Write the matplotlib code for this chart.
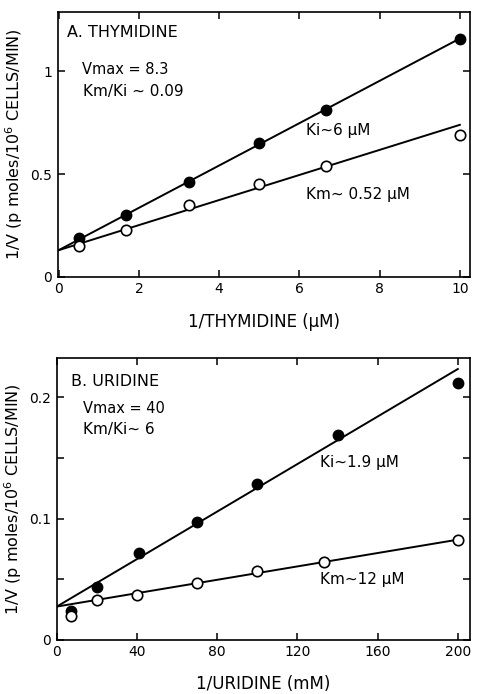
import numpy as np
import matplotlib
matplotlib.use('Agg')
import matplotlib.pyplot as plt

# Panel A: thymidine
thy_x = [0.5, 1.67, 3.25, 5.0, 6.67, 10.0]
thy_filled = [0.19, 0.30, 0.46, 0.65, 0.81, 1.16]
thy_open = [0.15, 0.23, 0.35, 0.45, 0.54, 0.69]
thy_intercept = 0.13
thy_slope_filled = 0.103
thy_slope_open = 0.061

# Panel B: uridine
uri_x_filled = [7, 20, 41, 70, 100, 140, 200]
uri_filled = [0.024, 0.044, 0.072, 0.097, 0.129, 0.169, 0.212]
uri_x_open = [7, 20, 40, 70, 100, 133, 200]
uri_open = [0.020, 0.0325, 0.0374, 0.047, 0.057, 0.064, 0.082]
uri_intercept = 0.0275
uri_slope_filled = 0.00098
uri_slope_open = 0.000276

plt.rcParams['font.family'] = 'DejaVu Sans'
plt.rcParams['font.size'] = 9

fig = plt.figure(figsize=(4.78, 6.94), dpi=100)
ax1 = fig.add_axes([0.121, 0.601, 0.862, 0.382])
ax2 = fig.add_axes([0.119, 0.078, 0.864, 0.406])

ylab = '1/V (p moles/10$^6$ CELLS/MIN)'


def style(ax):
    for s in ax.spines.values():
        s.set_linewidth(1.2)
    ax.tick_params(direction='in', top=True, right=True, length=5, width=1.1,
                   labelsize=10, pad=4)


def draw(ax, xf, yf, xo, yo, b, mf, mo, xmax):
    xl = np.array([0, xmax])
    ax.plot(xl, b + mf * xl, color='black', lw=1.4)
    ax.plot(xl, b + mo * xl, color='black', lw=1.4)
    ax.plot(xf, yf, 'o', ms=7.5, mfc='black', mec='black', zorder=3)
    ax.plot(xo, yo, 'o', ms=7.5, mfc='white', mec='black', mew=1.2, zorder=3)


# top panel
draw(ax1, thy_x, thy_filled, thy_x, thy_open, thy_intercept,
     thy_slope_filled, thy_slope_open, 10)
ax1.set_xlim(-0.02, 10.25)
ax1.set_ylim(0, 1.29)
ax1.set_xticks([0, 2, 4, 6, 8, 10])
ax1.set_yticks([0, 0.5, 1])
ax1.set_yticklabels(['0', '0.5', '1'])
style(ax1)
ax1.set_xlabel('1/THYMIDINE (μM)', fontsize=12, labelpad=12)
ax1.set_ylabel(ylab, fontsize=11.5, labelpad=4)
ax1.text(0.2, 1.19, 'A. THYMIDINE', fontsize=11.5, va='center')
ax1.text(0.57, 1.01, 'Vmax = 8.3', fontsize=10.5, va='center')
ax1.text(0.6, 0.90, 'Km/Ki ~ 0.09', fontsize=11, va='center')
ax1.text(6.17, 0.71, 'Ki~6 μM', fontsize=11, va='center')
ax1.text(6.17, 0.40, 'Km~ 0.52 μM', fontsize=11, va='center')

# bottom panel
draw(ax2, uri_x_filled, uri_filled, uri_x_open, uri_open, uri_intercept,
     uri_slope_filled, uri_slope_open, 200)
ax2.set_xlim(0, 206)
ax2.set_ylim(0, 0.2325)
ax2.set_xticks([0, 40, 80, 120, 160, 200])
ax2.set_yticks([0, 0.05, 0.1, 0.15, 0.2])
ax2.set_yticklabels(['0', '', '0.1', '', '0.2'])
style(ax2)
ax2.set_xlabel('1/URIDINE (mM)', fontsize=12, labelpad=11)
ax2.set_ylabel(ylab, fontsize=11.5, labelpad=4)
ax2.text(7.2, 0.213, 'B. URIDINE', fontsize=11.5, va='center')
ax2.text(13, 0.191, 'Vmax = 40', fontsize=10.5, va='center')
ax2.text(13, 0.1735, 'Km/Ki~ 6', fontsize=11, va='center')
ax2.text(131, 0.146, 'Ki~1.9 μM', fontsize=11, va='center')
ax2.text(131, 0.0496, 'Km~12 μM', fontsize=11, va='center')

fig.savefig('out.png', dpi=100)
